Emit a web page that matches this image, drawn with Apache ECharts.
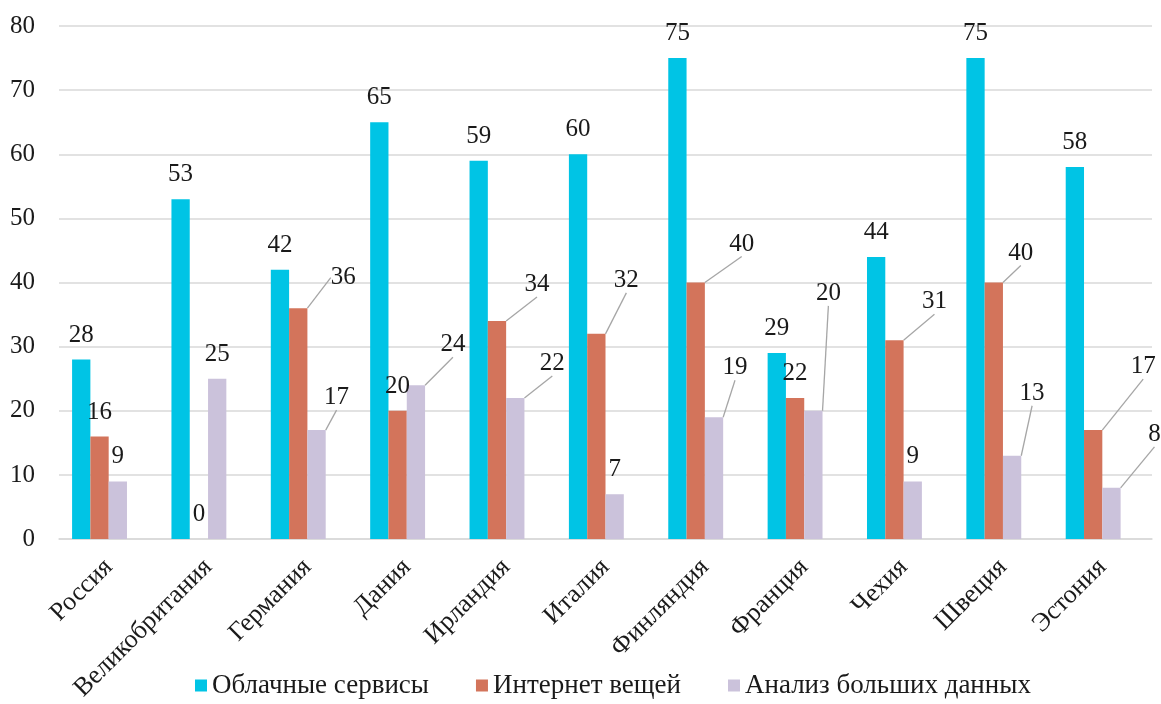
<!DOCTYPE html>
<html>
<head>
<meta charset="utf-8">
<script src="https://cdn.jsdelivr.net/npm/echarts@6/dist/echarts.min.js"></script>
<style>
html,body{margin:0;padding:0;background:#fff;}
#chart{width:1161px;height:704px;}
</style>
</head>
<body>
<div id="chart"></div>
<script>
const categories = ['Россия','Великобритания','Германия','Дания','Ирландия','Италия','Финляндия','Франция','Чехия','Швеция','Эстония'];
const seriesNames = ['Облачные сервисы','Интернет вещей','Анализ больших данных'];
const cloudValues = [28, 53, 42, 65, 59, 60, 75, 29, 44, 75, 58];
const iotValues = [16, 0, 36, 20, 34, 32, 40, 22, 31, 40, 17];
const bigDataValues = [9, 25, 17, 24, 22, 7, 19, 20, 9, 13, 8];
const yTicks = [0, 10, 20, 30, 40, 50, 60, 70, 80];

// label shifts (dx, dy in px) for manually moved data labels, by series then category
const labelShifts = [
  {},
  {2:[45,-6], 4:[40,-12], 5:[30,-29], 6:[46,-14], 8:[40,-14], 9:[27,-5], 10:[50,-39]},
  {2:[20,-8], 3:[37,-16], 4:[37,-10], 6:[21,-25], 7:[15,-93], 9:[20,-38], 10:[43,-29]}
];

const FONT = "'Liberation Serif','Times New Roman',serif";
const colors = ['#00C4E5','#D3745B','#CBC2DB'];

function makeData(values, si){
  return values.map((v, i) => {
    const moved = labelShifts[si][i];
    return moved ? {value: v, labelLine: {show: true}} : {value: v};
  });
}

const valueSets = [cloudValues, iotValues, bigDataValues];
const series = valueSets.map((vals, si) => ({
  name: seriesNames[si],
  type: 'bar',
  barWidth: 18.3,
  barGap: '0%',
  data: makeData(vals, si),
  itemStyle: {color: colors[si]},
  label: {
    show: true, position: 'top', distance: 12,
    fontFamily: FONT, fontSize: 25, color: '#1a1a1a'
  },
  labelLine: {show: false, lineStyle: {color: '#A6A6A6', width: 1.3}},
  labelLayout: function(p){
    const s = labelShifts[p.seriesIndex] && labelShifts[p.seriesIndex][p.dataIndex];
    if (s) return {dx: s[0], dy: s[1]};
    return {};
  },
  z: 2
}));
// empty spacer slot (as in the source chart, groups are offset by one hidden slot)
series.push({name: 'spacer', type: 'bar', barWidth: 18.3, barGap: '0%', data: [], silent: true});

const chart = echarts.init(document.getElementById('chart'));
chart.setOption({
  animation: false,
  backgroundColor: '#fff',
  textStyle: {fontFamily: FONT},
  grid: {left: 59, right: 9, top: 26, bottom: 164, containLabel: false},
  legend: {
    data: seriesNames,
    bottom: 0,
    left: 190,
    icon: 'rect',
    itemWidth: 12,
    itemHeight: 12,
    itemGap: 47,
    textStyle: {fontFamily: FONT, fontSize: 27, color: '#1a1a1a'}
  },
  xAxis: {
    type: 'category',
    data: categories,
    axisLine: {show: true, lineStyle: {color: '#D9D9D9', width: 1.5}},
    axisTick: {show: false},
    axisLabel: {
      rotate: 45, interval: 0, margin: 24,
      fontFamily: FONT, fontSize: 26, color: '#1a1a1a'
    }
  },
  yAxis: {
    type: 'value',
    min: yTicks[0], max: yTicks[yTicks.length-1], interval: 10,
    axisLine: {show: false},
    axisTick: {show: false},
    splitLine: {lineStyle: {color: '#D9D9D9', width: 1.5}},
    axisLabel: {margin: 24, fontFamily: FONT, fontSize: 25, color: '#1a1a1a'}
  },
  series: series
});
</script>
</body>
</html>
